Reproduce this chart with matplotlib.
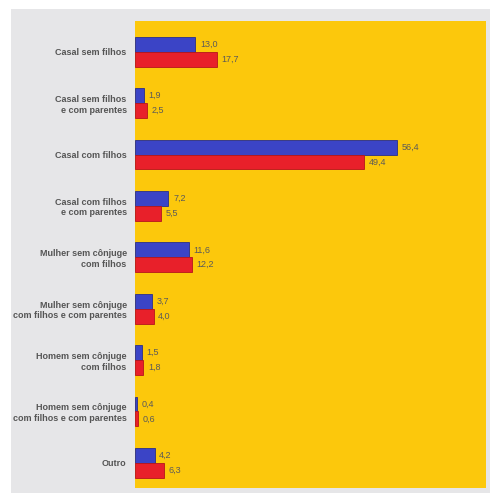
import matplotlib
matplotlib.use("Agg")
import matplotlib.pyplot as plt
from matplotlib.patches import Rectangle
import numpy as np

categories = [
    "Casal sem filhos",
    "Casal sem filhos\ne com parentes",
    "Casal com filhos",
    "Casal com filhos\ne com parentes",
    "Mulher sem cônjuge\ncom filhos",
    "Mulher sem cônjuge\ncom filhos e com parentes",
    "Homem sem cônjuge\ncom filhos",
    "Homem sem cônjuge\ncom filhos e com parentes",
    "Outro",
]
serie_azul = [13.0, 1.9, 56.4, 7.2, 11.6, 3.7, 1.5, 0.4, 4.2]
serie_vermelha = [17.7, 2.5, 49.4, 5.5, 12.2, 4.0, 1.8, 0.6, 6.3]

W, H = 491, 495
fig = plt.figure(figsize=(W / 100, H / 100), dpi=100)
fig.patch.set_facecolor("white")

# grey panel
fig.patches.append(Rectangle((11 / W, 1 - 493 / H), (490 - 11) / W, (493 - 9) / H,
                             transform=fig.transFigure, facecolor="#e6e6e8",
                             edgecolor="none", zorder=-10))

ax = fig.add_axes([135 / W, 1 - 488 / H, (486 - 135) / W, (488 - 21) / H])
ax.set_zorder(5)
ax.set_facecolor("#fcc80c")
for s in ax.spines.values():
    s.set_visible(False)

y = np.arange(len(categories))
h = 0.29
blue = "#3b44c6"
red = "#e8202a"
ax.barh(y - h / 2, serie_azul, height=h, color=blue, edgecolor="#2a2f8a", linewidth=0.6)
ax.barh(y + h / 2, serie_vermelha, height=h, color=red, edgecolor="#b5161c", linewidth=0.6)

for yi, v in zip(y, serie_azul):
    ax.text(v + 1.0, yi - h / 2, f"{v:.1f}".replace(".", ","), va="center", ha="left",
            fontsize=6.5, color="#5a5a5a", family="Liberation Sans")
for yi, v in zip(y, serie_vermelha):
    ax.text(v + 1.0, yi + h / 2, f"{v:.1f}".replace(".", ","), va="center", ha="left",
            fontsize=6.5, color="#5a5a5a", family="Liberation Sans")

ax.set_xlim(0, 75.6)
ax.set_ylim(8.49, -0.6)
ax.set_xticks([])
ax.set_yticks(y)
ax.set_yticklabels(categories, fontsize=6.5, color="#555555", family="Liberation Sans",
                   fontweight="bold", multialignment="right", linespacing=1.22)
ax.tick_params(axis="y", length=0, pad=6)

fig.savefig("out.png", dpi=100)
